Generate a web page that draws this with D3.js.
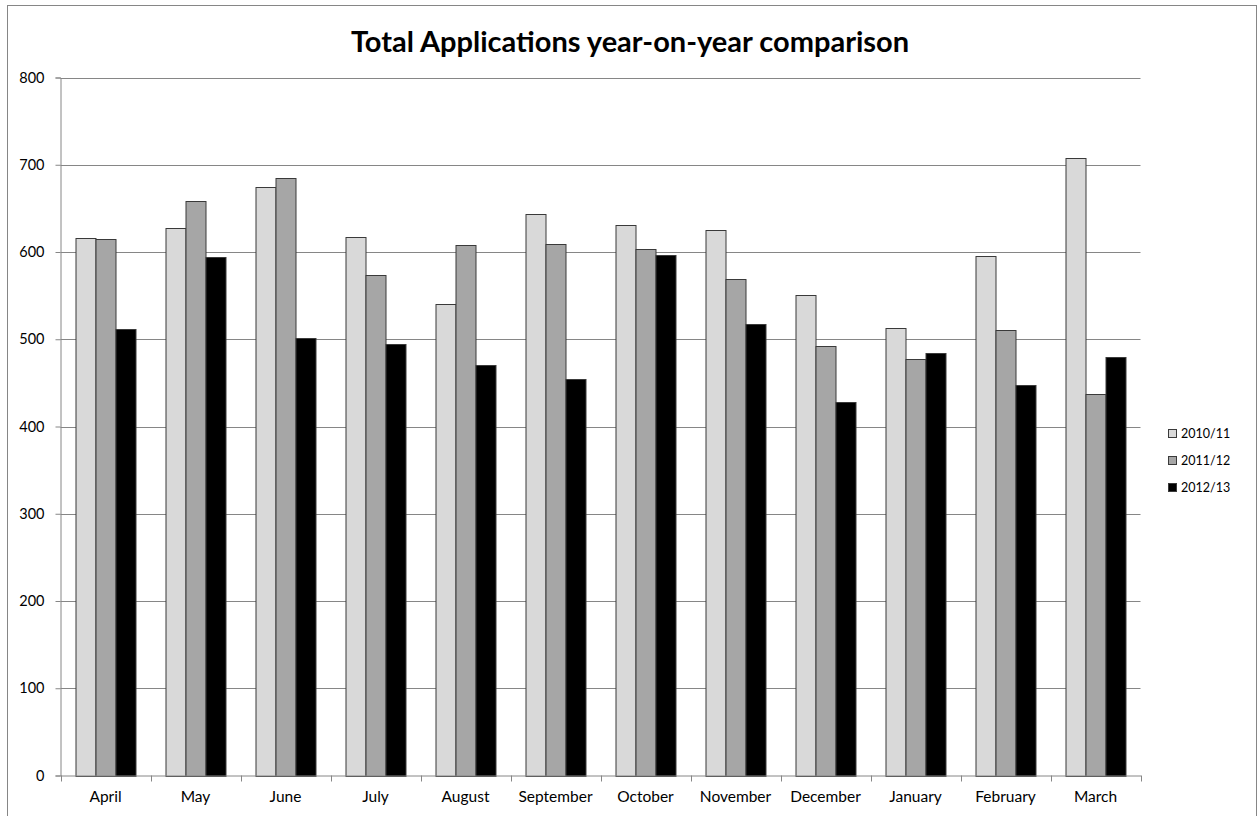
<!DOCTYPE html>
<html>
<head>
<meta charset="utf-8">
<script src="https://cdn.jsdelivr.net/npm/d3@7"></script>
<style>
  html, body { margin: 0; padding: 0; background: #fff; }
  svg { display: block; }
  text { font-family: Lato, "Open Sans", sans-serif; fill: #000; }
</style>
</head>
<body>
<svg id="chart" width="1259" height="816"></svg>
<script>
const months = ["April","May","June","July","August","September","October","November","December","January","February","March"];
const seriesNames = ["2010/11","2011/12","2012/13"];
const s2010 = [616, 628, 674, 617, 540, 643, 631, 625, 551, 513, 595, 708];
const s2011 = [615, 658, 685, 574, 608, 609, 603, 569, 492, 477, 511, 437];
const s2012 = [512, 594, 501, 495, 470, 454, 597, 517, 428, 484, 447, 480];
const yTicks = [0, 100, 200, 300, 400, 500, 600, 700, 800];
const colors = ["#d9d9d9", "#a6a6a6", "#000000"];
const title = "Total Applications year-on-year comparison";

const seriesValues = [s2010, s2011, s2012];

const svg = d3.select("#chart");
const plot = { left: 60.5, right: 1140.5, top: 77.5, bottom: 775.5 };

// outer border
svg.append("rect")
  .attr("x", 7.5).attr("y", 5.5)
  .attr("width", 1249).attr("height", 812)
  .attr("fill", "#fff").attr("stroke", "#868686").attr("stroke-width", 1);

const x = d3.scaleBand().domain(months).range([plot.left, plot.right]).padding(0);
const xs = d3.scaleBand().domain(seriesNames).range([0, x.bandwidth()]).paddingOuter(0.75).paddingInner(0);
const y = d3.scaleLinear().domain([0, 800]).range([plot.bottom, plot.top]);

// gridlines
svg.append("g").selectAll("line").data(yTicks.filter(t => t > 0)).join("line")
  .attr("x1", plot.left).attr("x2", plot.right)
  .attr("y1", d => Math.round(y(d)) + 0.5).attr("y2", d => Math.round(y(d)) + 0.5)
  .attr("stroke", "#868686").attr("stroke-width", 1);

// y axis
const yAxis = d3.axisLeft(y).tickValues(yTicks).tickSize(5).tickPadding(11).tickFormat(d3.format("d"));
const gy = svg.append("g").attr("transform", `translate(${plot.left},0)`).call(yAxis);
gy.select(".domain").attr("stroke", "#868686");
gy.selectAll(".tick line").attr("stroke", "#868686");
gy.selectAll(".tick text").style("font-size", "14.5px").attr("fill", "#000").style("font-family", "Lato, sans-serif");

// bars
const groups = svg.append("g").selectAll("g").data(months).join("g")
  .attr("transform", d => `translate(${x(d)},0)`);
groups.selectAll("rect").data((m, i) => seriesNames.map((s, j) => ({ s, j, v: seriesValues[j][i] }))).join("rect")
  .attr("x", d => Math.round(xs(d.s)) + 0.5)
  .attr("y", d => Math.round(y(d.v)) + 0.5)
  .attr("width", xs.bandwidth())
  .attr("height", d => Math.round(plot.bottom) - Math.round(y(d.v)))
  .attr("fill", d => colors[d.j])
  .attr("stroke", "#3a3a3a").attr("stroke-width", 1);

// x axis
const xAxis = d3.axisBottom(x).tickSize(0).tickPadding(15);
const gx = svg.append("g").attr("transform", `translate(0,${plot.bottom})`).call(xAxis);
gx.select(".domain").attr("stroke", "#868686");
gx.selectAll(".tick text").style("font-size", "15.5px").attr("fill", "#000").style("font-family", "Lato, sans-serif");
// category boundary ticks
svg.append("g").selectAll("line").data(months.concat(["_end"])).join("line")
  .attr("x1", (d, i) => Math.round(i < months.length ? x(d) : plot.right) + 0.5)
  .attr("x2", (d, i) => Math.round(i < months.length ? x(d) : plot.right) + 0.5)
  .attr("y1", plot.bottom).attr("y2", plot.bottom + 6)
  .attr("stroke", "#868686");

// title
svg.append("text").attr("x", 630).attr("y", 52).attr("text-anchor", "middle")
  .style("font-size", "29px").style("font-weight", "bold").text(title);

// legend
const leg = svg.append("g").selectAll("g").data(seriesNames).join("g")
  .attr("transform", (d, i) => `translate(1168,${434 + i * 27})`);
leg.append("rect").attr("x", 0.5).attr("y", -4.5).attr("width", 8).attr("height", 8)
  .attr("fill", (d, i) => colors[i]).attr("stroke", "#3a3a3a");
leg.append("text").attr("x", 13).attr("y", 0).attr("dy", "0.35em")
  .style("font-size", "12.5px").text(d => d);
</script>
</body>
</html>
